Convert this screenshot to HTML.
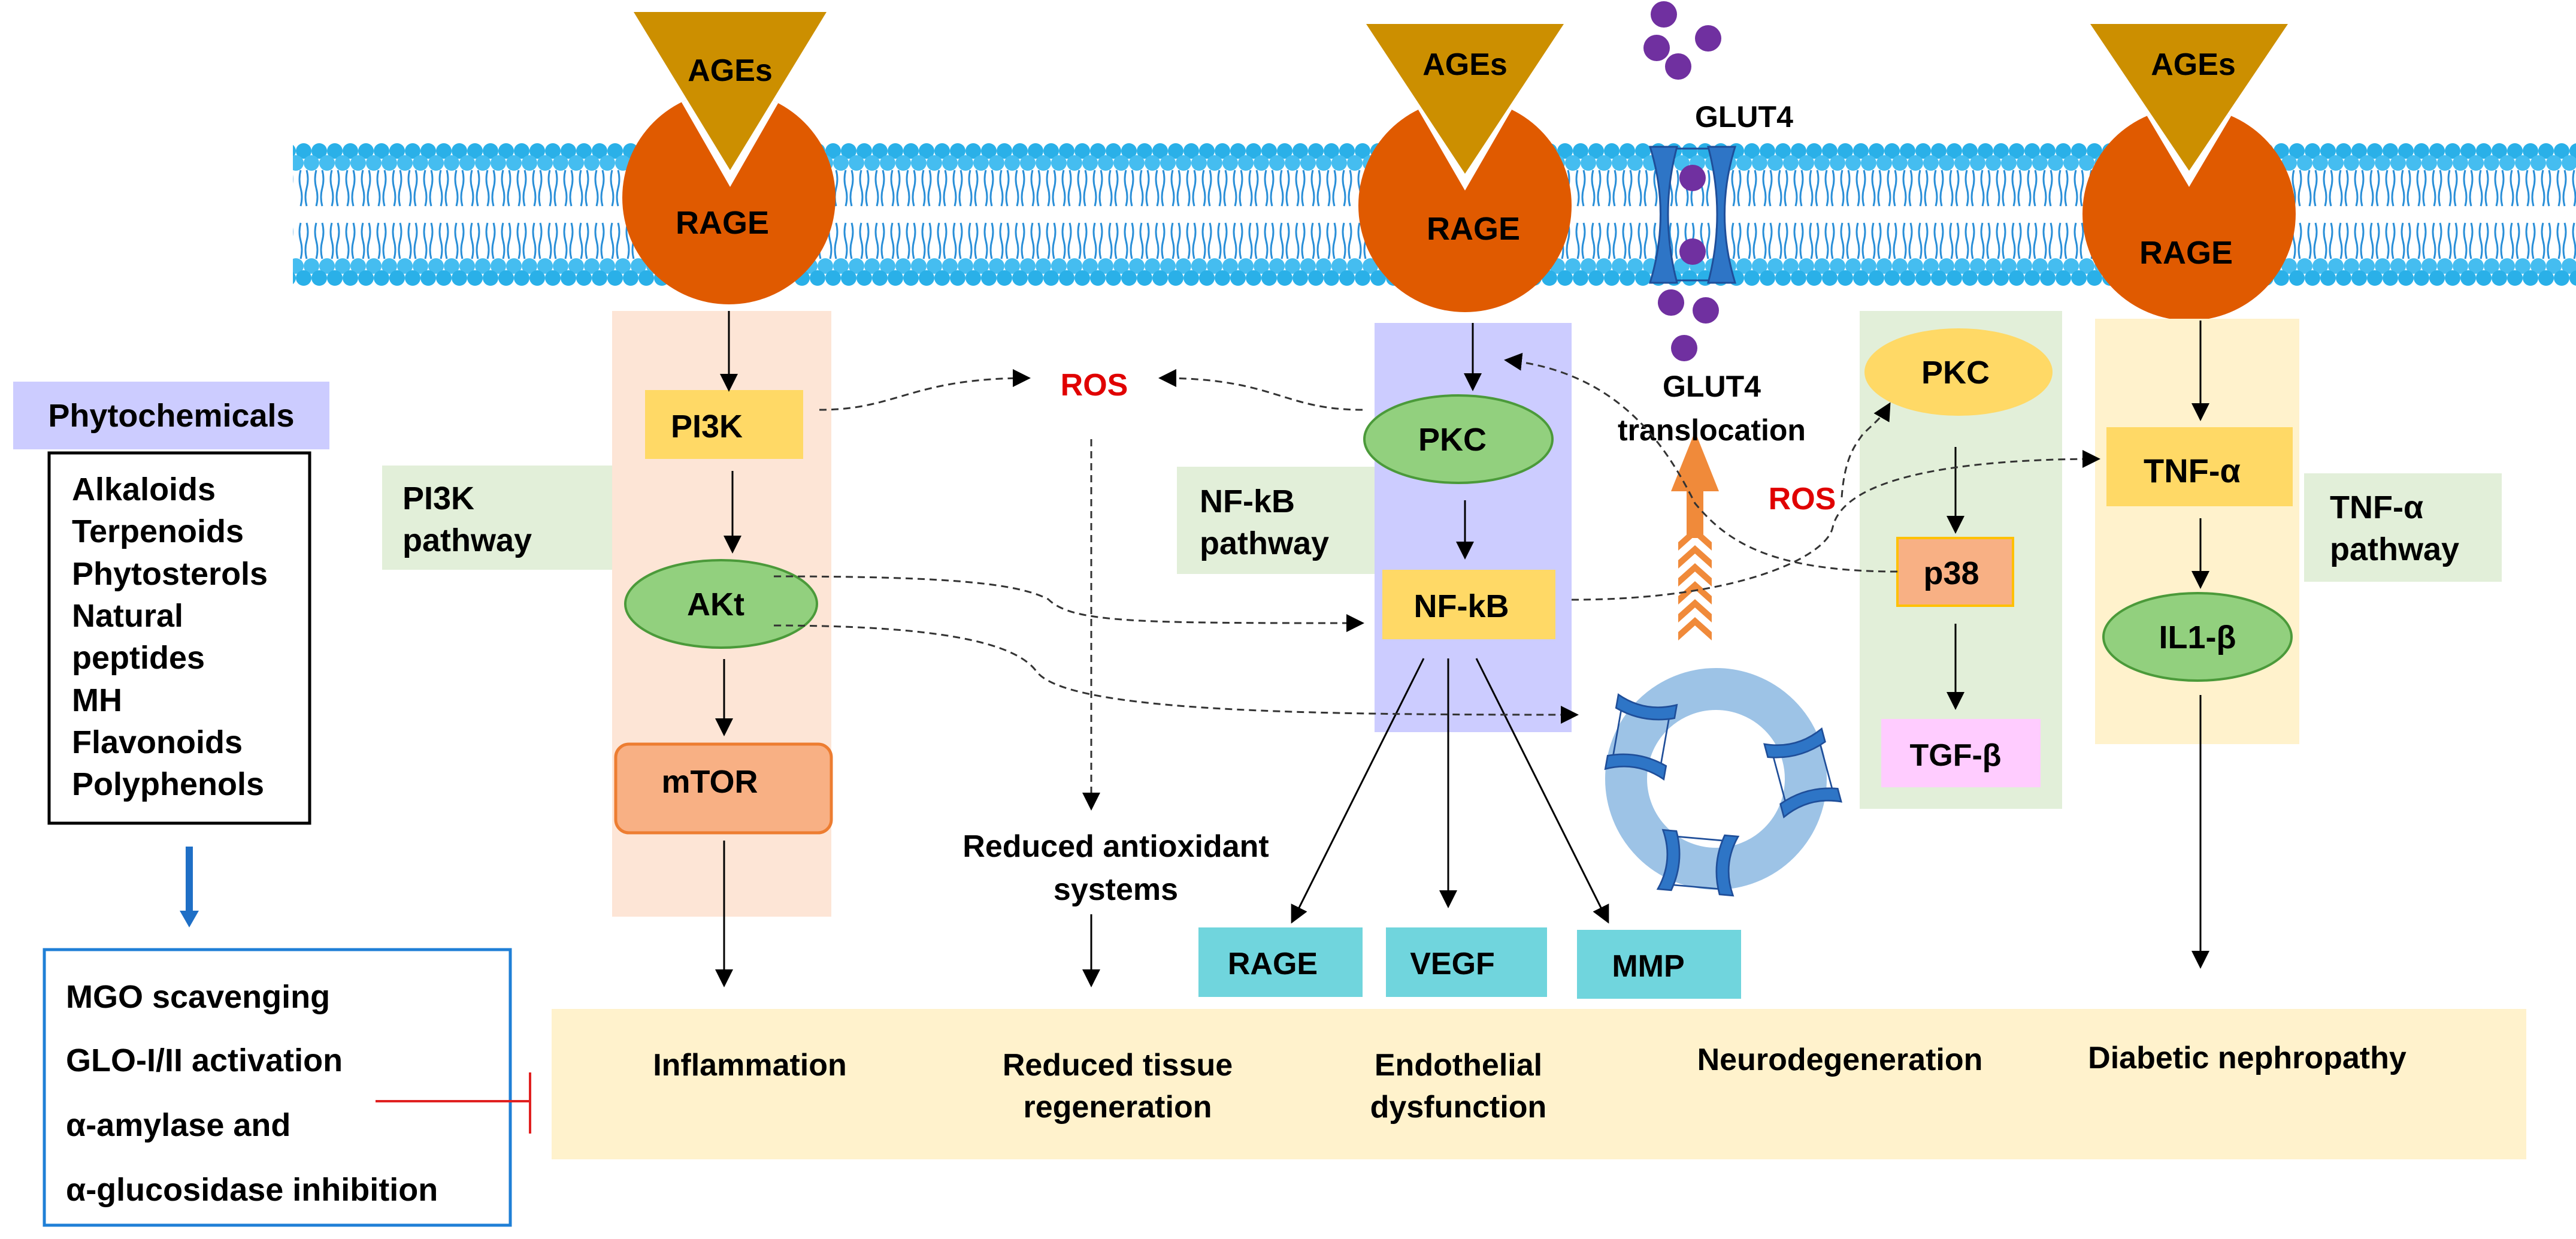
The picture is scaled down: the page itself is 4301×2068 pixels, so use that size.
<!DOCTYPE html>
<html><head><meta charset="utf-8"><style>
html,body{margin:0;padding:0;background:#fff;}
svg{display:block;}
text{font-family:"Liberation Sans","Noto Sans CJK KR",sans-serif;font-weight:bold;}
</style></head><body>
<svg width="4301" height="2068" viewBox="0 0 4301 2068" xmlns="http://www.w3.org/2000/svg">
<defs>
<marker id="a" viewBox="0 0 10 10" refX="9" refY="5" markerWidth="30" markerHeight="30" markerUnits="userSpaceOnUse" orient="auto"><path d="M0,0 L10,5 L0,10 z" fill="#000"/></marker>
<pattern id="mem" x="0" y="238" width="26" height="240" patternUnits="userSpaceOnUse">
<circle cx="13" cy="14" r="13" fill="#2ab0e8"/><circle cx="0" cy="34" r="13" fill="#45bdf0"/><circle cx="26" cy="34" r="13" fill="#45bdf0"/>
<path d="M8,46 q-4,15 0,30 q4,15 0,30 M18,46 q4,15 0,30 q-4,15 0,30" stroke="#2a8fd8" stroke-width="3" fill="none"/>
<path d="M8,134 q-4,15 0,30 q4,15 0,30 M18,134 q4,15 0,30 q-4,15 0,30" stroke="#2a8fd8" stroke-width="3" fill="none"/>
<circle cx="0" cy="206" r="13" fill="#45bdf0"/><circle cx="26" cy="206" r="13" fill="#45bdf0"/><circle cx="13" cy="226" r="13" fill="#2ab0e8"/>
</pattern>
<g id="ch">
<path d="M-60,-45 L60,-45 M-60,45 L60,45" stroke="#1f4e99" stroke-width="3" fill="none"/>
<path d="M-70,-55 L-45,-55 Q-25,0 -45,55 L-70,55 Q-45,0 -70,-55Z" fill="#2e75c6" stroke="#1f4e99" stroke-width="3"/>
<path d="M70,-55 L45,-55 Q25,0 45,55 L70,55 Q45,0 70,-55Z" fill="#2e75c6" stroke="#1f4e99" stroke-width="3"/>
</g>
<clipPath id="c1"><circle cx="1217" cy="330" r="178"/></clipPath>
<clipPath id="c2"><circle cx="2446" cy="343" r="178"/></clipPath>
<clipPath id="c3"><circle cx="3655" cy="357" r="178"/></clipPath>
</defs>

<rect x="489" y="238" width="3812" height="240" fill="url(#mem)"/>

<circle cx="1217" cy="330" r="178" fill="#e05a00"/>
<polygon points="1040,0 1398,0 1219,312" fill="#fff" clip-path="url(#c1)"/>
<polygon points="1058,20 1380,20 1219,284" fill="#cc8f00"/>
<text x="1219" y="135" font-size="52" text-anchor="middle">AGEs</text>
<text x="1206" y="390" font-size="54" text-anchor="middle">RAGE</text>
<circle cx="2446" cy="343" r="178" fill="#e05a00"/>
<polygon points="2262,0 2630,0 2446,318" fill="#fff" clip-path="url(#c2)"/>
<polygon points="2281,40 2611,40 2446,290" fill="#cc8f00"/>
<text x="2446" y="125" font-size="52" text-anchor="middle">AGEs</text>
<text x="2460" y="400" font-size="54" text-anchor="middle">RAGE</text>
<circle cx="3655" cy="357" r="178" fill="#e05a00"/>
<polygon points="3470,0 3840,0 3655,312" fill="#fff" clip-path="url(#c3)"/>
<polygon points="3490,40 3820,40 3655,285" fill="#cc8f00"/>
<text x="3662" y="125" font-size="52" text-anchor="middle">AGEs</text>
<text x="3650" y="440" font-size="54" text-anchor="middle">RAGE</text>

<!-- GLUT4 channel -->
<path d="M2762,248 L2890,248 M2762,468 L2890,468" stroke="#1f4e99" stroke-width="3"/>
<path d="M2755,245 L2800,245 Q2770,357 2800,472 L2755,472 Q2790,357 2755,245 Z" fill="#2e75c6" stroke="#1f4e99" stroke-width="3"/>
<path d="M2897,245 L2852,245 Q2882,357 2852,472 L2897,472 Q2862,357 2897,245 Z" fill="#2e75c6" stroke="#1f4e99" stroke-width="3"/>
<g fill="#7030a0">
<circle cx="2778" cy="24" r="22"/><circle cx="2852" cy="64" r="22"/><circle cx="2766" cy="80" r="22"/><circle cx="2802" cy="111" r="22"/>
<circle cx="2826" cy="297" r="22"/><circle cx="2826" cy="420" r="22"/><circle cx="2790" cy="505" r="22"/><circle cx="2848" cy="518" r="22"/><circle cx="2812" cy="581" r="22"/>
</g>
<text x="2830" y="212" font-size="50">GLUT4</text>

<rect x="22" y="637" width="528" height="113" fill="#ccccff"/>
<text x="286" y="712" font-size="54" text-anchor="middle">Phytochemicals</text>
<rect x="82" y="756" width="435" height="618" fill="#fff" stroke="#000" stroke-width="5"/>
<g font-size="54">
<text x="120" y="835">Alkaloids</text><text x="120" y="905">Terpenoids</text><text x="120" y="976">Phytosterols</text>
<text x="120" y="1046">Natural</text><text x="120" y="1116">peptides</text><text x="120" y="1187">MH</text>
<text x="120" y="1257">Flavonoids</text><text x="120" y="1327">Polyphenols</text>
</g>
<line x1="316" y1="1413" x2="316" y2="1525" stroke="#1f6fc6" stroke-width="12"/>
<polygon points="300,1520 332,1520 316,1548" fill="#1f6fc6"/>
<rect x="74" y="1585" width="778" height="460" fill="#fff" stroke="#1f7fd6" stroke-width="5"/>
<g font-size="54">
<text x="110" y="1682">MGO scavenging</text><text x="110" y="1788">GLO-I/II activation</text>
<text x="110" y="1896">α-amylase and</text><text x="110" y="2004">α-glucosidase inhibition</text>
</g>
<rect x="921" y="1684" width="3297" height="251" fill="#fff2cc"/>
<line x1="627" y1="1838" x2="885" y2="1838" stroke="#e02020" stroke-width="4"/>
<line x1="885" y1="1790" x2="885" y2="1892" stroke="#e02020" stroke-width="4"/>
<g font-size="52" text-anchor="middle">
<text x="1252" y="1795">Inflammation</text>
<text x="1866" y="1795">Reduced tissue</text><text x="1866" y="1865">regeneration</text>
<text x="2435" y="1795">Endothelial</text><text x="2435" y="1865">dysfunction</text>
<text x="3072" y="1786">Neurodegeneration</text>
<text x="3752" y="1783">Diabetic nephropathy</text>
</g>

<rect x="1022" y="519" width="366" height="1011" fill="#fde5d6"/>
<rect x="638" y="777" width="384" height="174" fill="#e2efd9"/>
<text x="672" y="850" font-size="54">PI3K</text><text x="672" y="920" font-size="54">pathway</text>
<rect x="1077" y="651" width="264" height="115" fill="#ffd966"/>
<text x="1180" y="730" font-size="54" text-anchor="middle">PI3K</text>
<ellipse cx="1204" cy="1008" rx="160" ry="73" fill="#92d07e" stroke="#4b9a3a" stroke-width="4"/>
<text x="1195" y="1027" font-size="54" text-anchor="middle">AKt</text>
<rect x="1028" y="1242" width="360" height="148" rx="22" fill="#f8b084" stroke="#ed7d31" stroke-width="5"/>
<text x="1185" y="1323" font-size="54" text-anchor="middle">mTOR</text>

<text x="1827" y="660" font-size="52" fill="#e00000" text-anchor="middle">ROS</text>
<text x="1863" y="1430" font-size="52" text-anchor="middle">Reduced antioxidant</text>
<text x="1863" y="1502" font-size="52" text-anchor="middle">systems</text>

<rect x="2295" y="539" width="329" height="683" fill="#ccccff"/>
<rect x="1965" y="779" width="330" height="179" fill="#e2efd9"/>
<text x="2003" y="855" font-size="54">NF-kB</text><text x="2003" y="925" font-size="54">pathway</text>
<ellipse cx="2435" cy="733" rx="157" ry="73" fill="#92d07e" stroke="#4b9a3a" stroke-width="4"/>
<text x="2425" y="752" font-size="54" text-anchor="middle">PKC</text>
<rect x="2308" y="951" width="289" height="116" fill="#ffd966"/>
<text x="2440" y="1030" font-size="54" text-anchor="middle">NF-kB</text>
<rect x="2001" y="1548" width="274" height="116" fill="#70d5dd"/>
<text x="2125" y="1626" font-size="52" text-anchor="middle">RAGE</text>
<rect x="2314" y="1548" width="269" height="116" fill="#70d5dd"/>
<text x="2425" y="1626" font-size="52" text-anchor="middle">VEGF</text>
<rect x="2633" y="1552" width="274" height="115" fill="#70d5dd"/>
<text x="2752" y="1630" font-size="52" text-anchor="middle">MMP</text>

<!-- vesicle -->
<circle cx="2865" cy="1300" r="150" fill="none" stroke="#9dc3e6" stroke-width="70"/>
<use href="#ch" transform="translate(2740,1230) rotate(100) scale(0.9)"/>
<use href="#ch" transform="translate(3010,1290) rotate(75) scale(0.9)"/>
<use href="#ch" transform="translate(2835,1440) rotate(5) scale(0.9)"/>

<g fill="#f08a3a">
<polygon points="2830,720 2790,820 2870,820"/>
<rect x="2816" y="818" width="28" height="80"/>
<path d="M2802,905 l28,-25 l28,25 l0,14 l-28,-25 l-28,25z"/>
<path d="M2802,935 l28,-25 l28,25 l0,14 l-28,-25 l-28,25z"/>
<path d="M2802,965 l28,-25 l28,25 l0,14 l-28,-25 l-28,25z"/>
<path d="M2802,995 l28,-25 l28,25 l0,14 l-28,-25 l-28,25z"/>
<path d="M2802,1025 l28,-25 l28,25 l0,14 l-28,-25 l-28,25z"/>
<path d="M2802,1055 l28,-25 l28,25 l0,14 l-28,-25 l-28,25z"/>
</g>
<text x="2858" y="662" font-size="50" text-anchor="middle">GLUT4</text>
<text x="2858" y="735" font-size="50" text-anchor="middle">translocation</text>

<rect x="3105" y="519" width="338" height="831" fill="#e2efd9"/>
<ellipse cx="3270" cy="621" rx="157" ry="73" fill="#ffd966"/>
<text x="3265" y="640" font-size="54" text-anchor="middle">PKC</text>
<rect x="3168" y="898" width="193" height="113" fill="#f8b084" stroke="#ffc000" stroke-width="4"/>
<text x="3258" y="975" font-size="54" text-anchor="middle">p38</text>
<rect x="3141" y="1200" width="266" height="114" fill="#ffccff"/>
<text x="3265" y="1278" font-size="52" text-anchor="middle">TGF-β</text>
<text x="3009" y="850" font-size="52" fill="#e00000" text-anchor="middle">ROS</text>

<rect x="3498" y="532" width="341" height="710" fill="#fff2cc"/>
<rect x="3847" y="790" width="330" height="181" fill="#e2efd9"/>
<text x="3890" y="865" font-size="54">TNF-α</text><text x="3890" y="935" font-size="54">pathway</text>
<rect x="3517" y="713" width="311" height="132" fill="#ffd966"/>
<text x="3660" y="805" font-size="56" text-anchor="middle">TNF-α</text>
<ellipse cx="3669" cy="1063" rx="157" ry="73" fill="#92d07e" stroke="#4b9a3a" stroke-width="4"/>
<text x="3669" y="1082" font-size="54" text-anchor="middle">IL1-β</text>

<g stroke="#000" stroke-width="3" fill="none" marker-end="url(#a)">
<line x1="1217" y1="519" x2="1217" y2="651"/>
<line x1="1223" y1="786" x2="1223" y2="921"/>
<line x1="1209" y1="1100" x2="1209" y2="1226"/>
<line x1="1209" y1="1403" x2="1209" y2="1645"/>
<line x1="1822" y1="1526" x2="1822" y2="1645"/>
<line x1="2459" y1="539" x2="2459" y2="650"/>
<line x1="2446" y1="835" x2="2446" y2="931"/>
<line x1="2377" y1="1099" x2="2157" y2="1539"/>
<line x1="2418" y1="1099" x2="2418" y2="1513"/>
<line x1="2465" y1="1099" x2="2685" y2="1539"/>
<line x1="3265" y1="746" x2="3265" y2="888"/>
<line x1="3265" y1="1041" x2="3265" y2="1182"/>
<line x1="3674" y1="535" x2="3674" y2="700"/>
<line x1="3674" y1="865" x2="3674" y2="980"/>
<line x1="3674" y1="1160" x2="3674" y2="1614"/>
</g>
<g stroke="#333" stroke-width="3" fill="none" stroke-dasharray="12,8" marker-end="url(#a)">
<line x1="1822" y1="733" x2="1822" y2="1350"/>
<path d="M1368,684 C1500,684 1520,631 1718,631"/>
<path d="M2275,684 C2140,684 2130,631 1937,631"/>
<path d="M1292,962 C1600,962 1700,975 1750,1000 C1790,1040 1900,1040 2275,1040"/>
<path d="M1292,1044 C1600,1044 1700,1080 1730,1120 C1780,1190 2200,1193 2633,1193"/>
<path d="M2624,1001 C2900,1001 3050,930 3060,880 C3080,790 3300,766 3504,766"/>
<path d="M3168,954 C2950,954 2880,900 2830,840 C2780,740 2700,620 2514,601"/>
<path d="M3075,830 C3080,760 3100,740 3110,725 C3130,705 3140,700 3155,674"/>
</g>
</svg>
</body></html>
